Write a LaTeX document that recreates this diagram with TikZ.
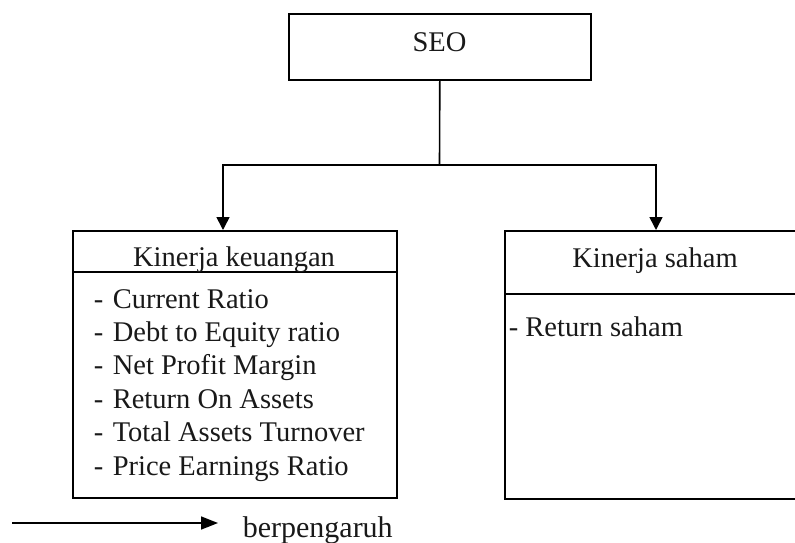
\documentclass[tikz,border=0pt]{standalone}
\usepackage{fontspec}
\setmainfont{Liberation Serif}
\usetikzlibrary{arrows.meta}
\begin{document}
\begin{tikzpicture}[x=1pt,y=-1pt,line width=1.6pt,
  box/.style={draw,rectangle,inner sep=0pt,anchor=north west},
  lbl/.style={font=\fontsize{28.5}{33.5}\selectfont,inner sep=0pt,text=black!90},
  arr/.style={-{Triangle[length=13pt,width=13pt]}}]
\useasboundingbox (0,0) rectangle (795,542);
\clip (0,0) rectangle (795,542);
% SEO box
\node[box,minimum width=302pt,minimum height=66pt] (seo) at (288,13) {};
\node[lbl,anchor=base] (seot) at (439.5,51) {SEO};
% left box
\node[box,minimum width=324pt,minimum height=267pt] (kk) at (72,230) {};
\draw (72,272) -- (396,272);
\node[lbl,anchor=base] (kkt) at (234,266) {Kinerja keuangan};
\foreach \t [count=\i] in {Current Ratio,Debt to Equity ratio,Net Profit Margin,Return On Assets,Total Assets Turnover,Price Earnings Ratio}{
  \node[lbl,anchor=base west] (d\i) at (93,{308+33.4*(\i-1)}) {-};
  \node[lbl,anchor=base west] (i\i) at (112,{308+33.4*(\i-1)}) {\t};
}
% right box
\node[box,minimum width=320pt,minimum height=268pt] (ks) at (504,230) {};
\draw (504,294) -- (824,294);
\node[lbl,anchor=base] (kst) at (655,267) {Kinerja saham};
\node[lbl,anchor=base west] (rs) at (508,336) {- Return saham};
% connectors
\coordinate (j) at (439.5,165);
\coordinate (kkin) at (223,230);
\coordinate (ksin) at (656,230);
\draw (seo.south) -- (j);
\draw[arr] (j) -| (kkin);
\draw[arr] (j) -| (ksin);
% legend
\coordinate (l0) at (12,523);
\coordinate (l1) at (218,523);
\draw[-{Triangle[length=17pt,width=13pt]}] (l0) -- (l1);
\node[lbl,anchor=base west,font=\fontsize{30}{34}\selectfont] (lg) at (242,537) {berpengaruh};
\end{tikzpicture}
\end{document}
